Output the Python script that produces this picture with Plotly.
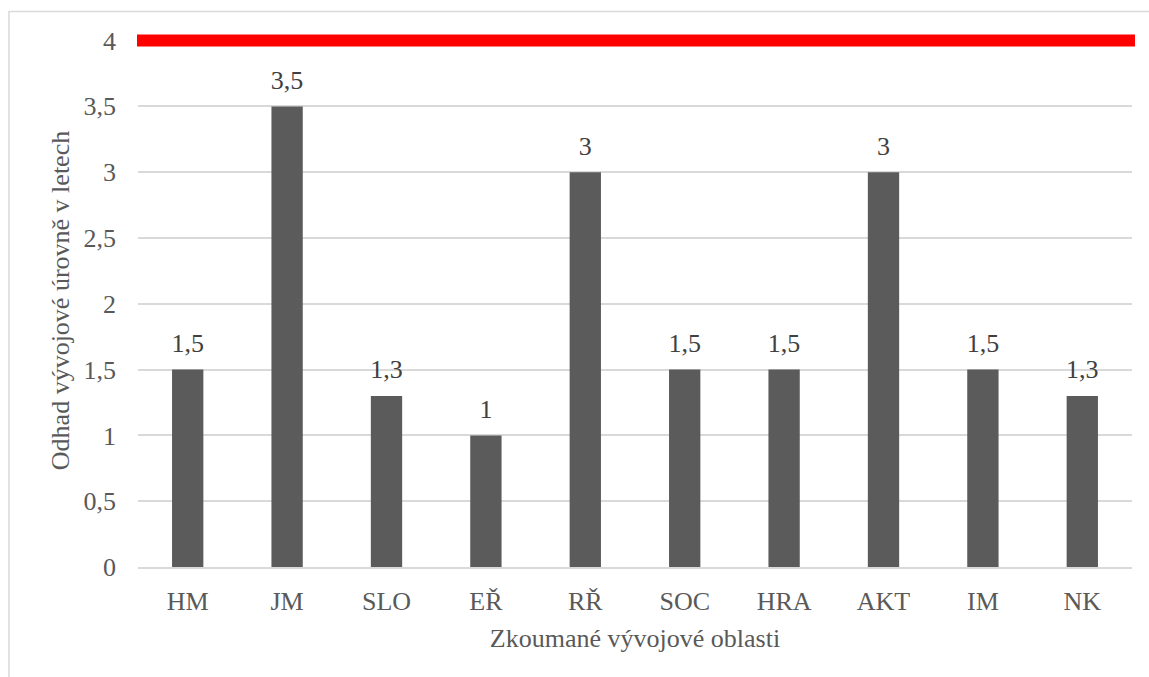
import plotly.graph_objects as go

categories = ["HM", "JM", "SLO", "EŘ", "RŘ", "SOC", "HRA", "AKT", "IM", "NK"]
values = [1.5, 3.5, 1.3, 1, 3, 1.5, 1.5, 3, 1.5, 1.3]
target_level = 4
y_ticks = [0, 0.5, 1, 1.5, 2, 2.5, 3, 3.5, 4]


def fmt(v):
    s = ("%g" % v)
    return s.replace(".", ",")


FONT = "Liberation Serif, Times New Roman, serif"
TXT = "#595959"
FS = 26

fig = go.Figure()
fig.add_trace(go.Bar(
    x=categories, y=values,
    marker=dict(color="#5b5b5b", line=dict(width=0)),
    showlegend=False, hoverinfo="skip",
))
# value labels, placed above the bars
fig.add_trace(go.Scatter(
    x=categories, y=values,
    mode="markers+text",
    marker=dict(size=16, opacity=0),
    text=[fmt(v) for v in values],
    textposition="top center",
    textfont=dict(family=FONT, size=FS, color="#404040"),
    cliponaxis=False,
    showlegend=False,
))

fig.add_shape(type="line", xref="x domain", yref="y",
              x0=-0.001, x1=1.003, y0=target_level, y1=target_level,
              line=dict(color="#ff0000", width=12), layer="above")

# outer chart border (cropped at right/bottom)
fig.add_shape(type="rect", xref="paper", yref="paper",
              x0=-0.1298, x1=1.2, y0=-0.5, y1=1.042,
              line=dict(color="#d9d9d9", width=1.5), layer="below")

fig.update_layout(
    width=1149, height=677,
    margin=dict(l=138, r=17, t=34, b=110, autoexpand=False),
    plot_bgcolor="white", paper_bgcolor="white",
    separators=", ",
    bargap=0.685,
    font=dict(family=FONT, size=FS, color=TXT),
    xaxis=dict(
        range=[-0.5, len(categories) - 0.5],
        tickfont=dict(family=FONT, size=FS, color=TXT),
        showline=True, linecolor="#d9d9d9", linewidth=1.5,
        ticks="outside", ticklen=10, tickcolor="rgba(0,0,0,0)",
        title=dict(text="Zkoumané vývojové oblasti", standoff=14,
                   font=dict(family=FONT, size=FS, color=TXT)),
    ),
    yaxis=dict(
        range=[0, 4.05],
        tickvals=y_ticks,
        ticktext=[fmt(v) for v in y_ticks],
        tickfont=dict(family=FONT, size=FS, color=TXT),
        showgrid=True, gridcolor="#d9d9d9", gridwidth=1.5,
        zeroline=False, showline=False, ticks="",
        ticklabelstandoff=21,
        title=dict(text="Odhad vývojové úrovně v letech", standoff=6,
                   font=dict(family=FONT, size=FS, color=TXT)),
    ),
)

fig.write_html("out.html")
